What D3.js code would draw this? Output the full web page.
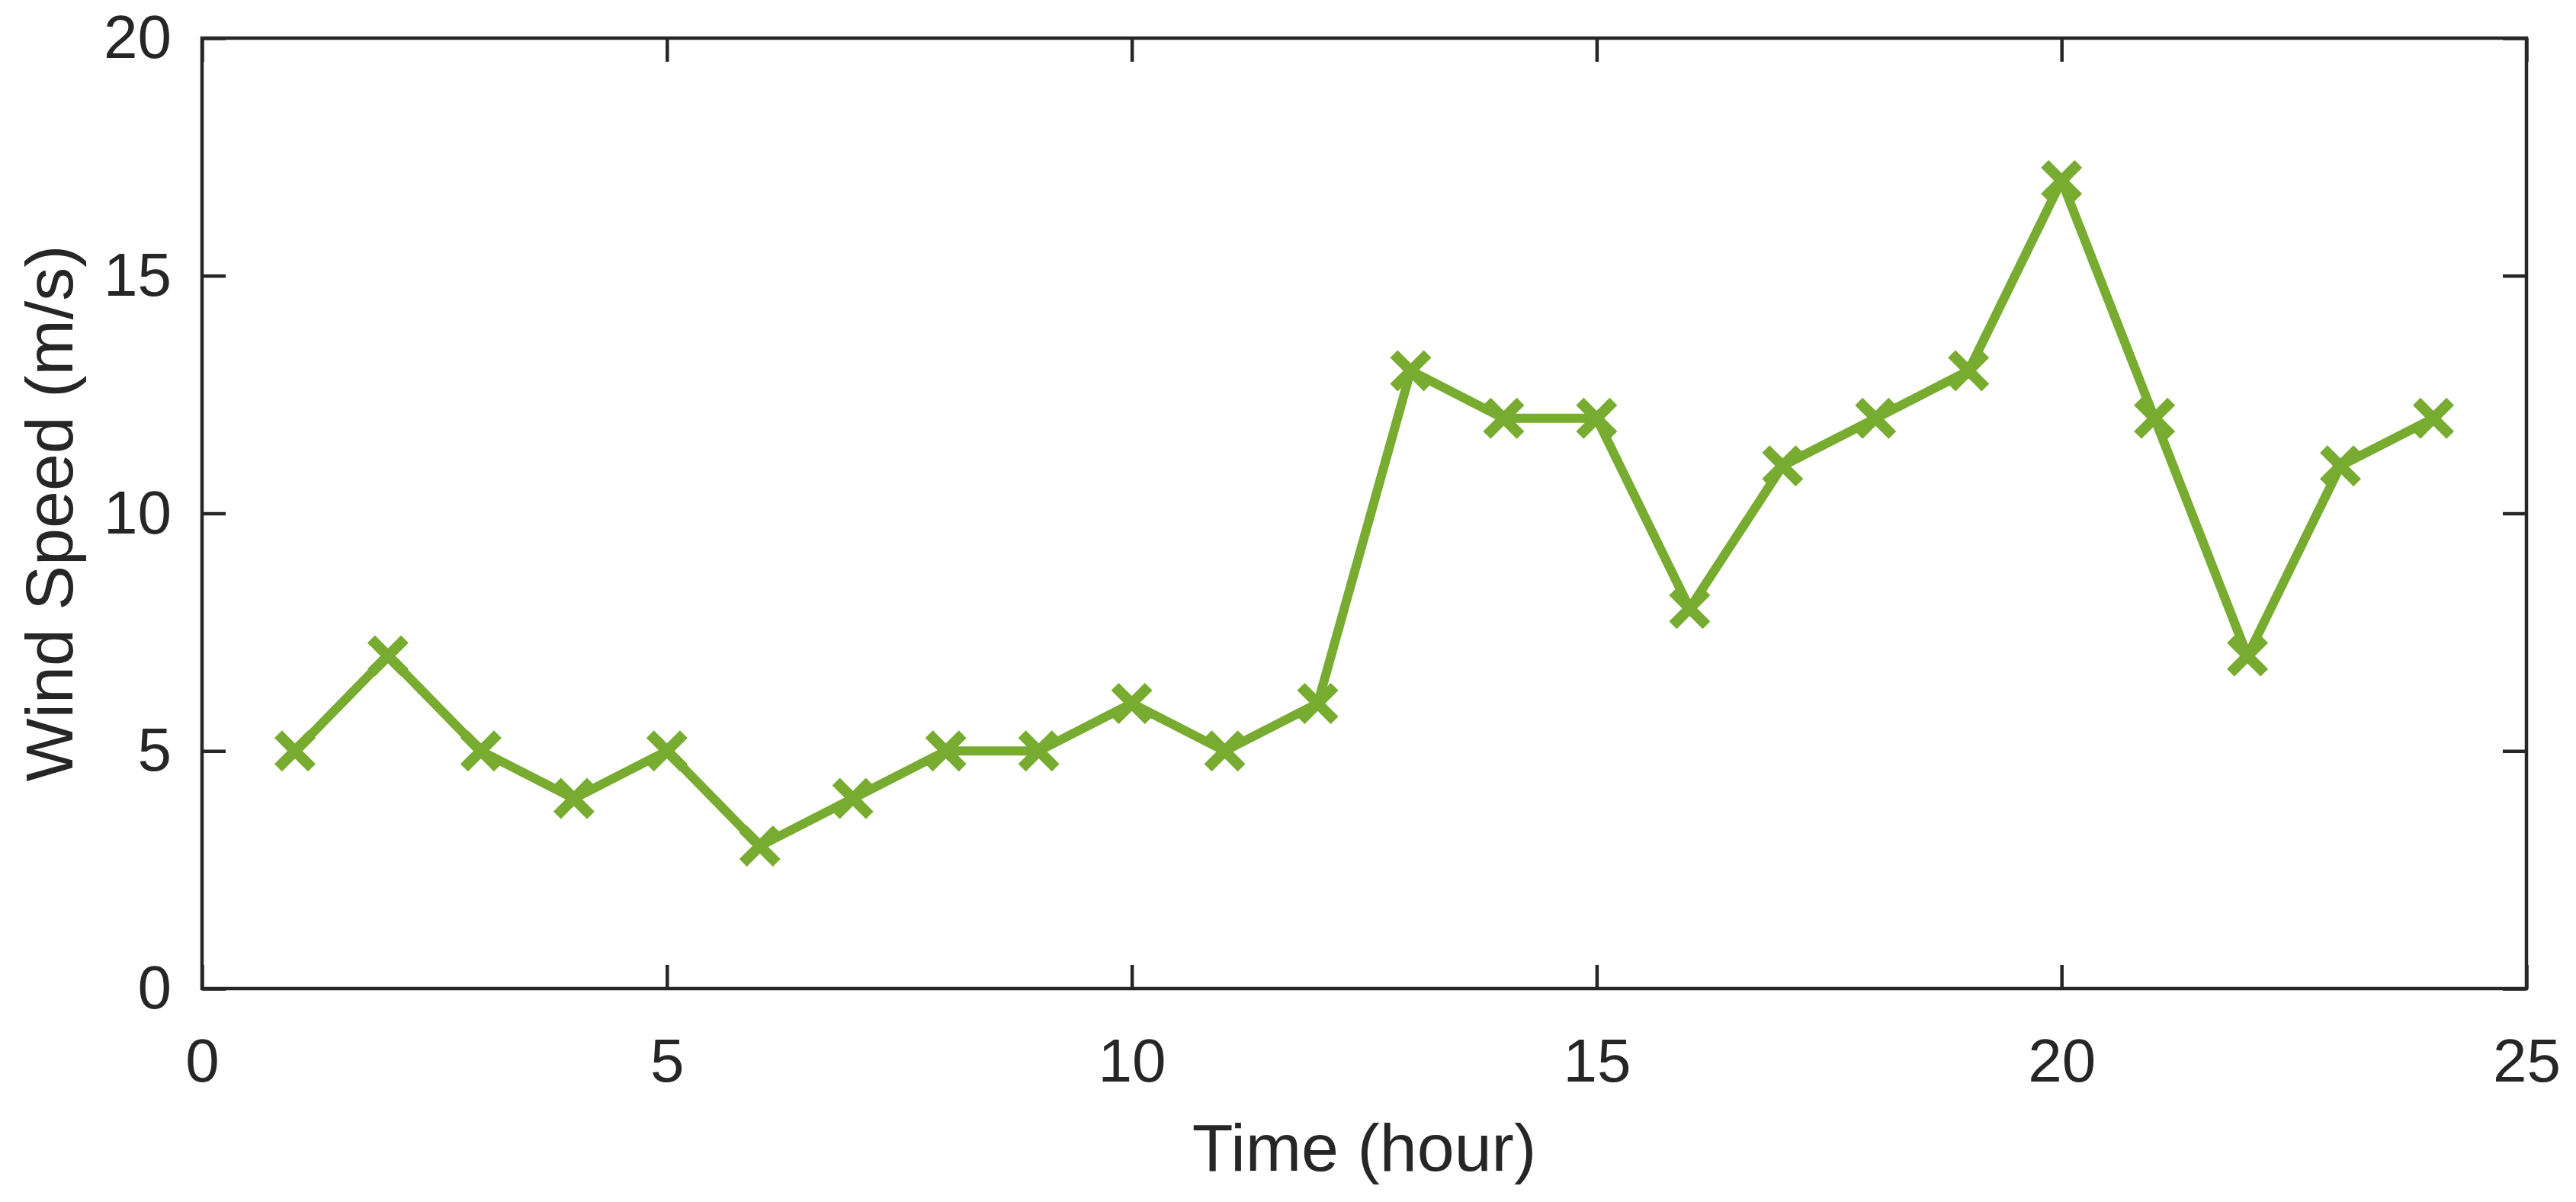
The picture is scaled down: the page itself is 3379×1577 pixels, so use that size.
<!DOCTYPE html>
<html>
<head>
<meta charset="utf-8">
<script src="https://cdn.jsdelivr.net/npm/d3@7"></script>
<style>
  body { margin: 0; background: #fff; }
  text { font-family: "Liberation Sans", Arial, sans-serif; fill: #262626; }
</style>
</head>
<body>
<svg class="chart"></svg>
<script>
// hours and wind speed
var hours = [1,2,3,4,5,6,7,8,9,10,11,12,13,14,15,16,17,18,19,20,21,22,23,24];
var speed = [5,7,5,4,5,3,4,5,5,6,5,6,13,12,12,8,11,12,13,17,12,7,11,12];
var xTicks = [0,5,10,15,20,25];
var yTicks = [0,5,10,15,20];

var W = 3379, H = 1577;
// note: "top" is taken by window.top, so prefixed names
var pLeft = 265, pRight = 3314, pTop = 50, pBottom = 1297;
var green = "#77AC30", dark = "#262626";

var svg = d3.select(".chart").attr("width", W).attr("height", H);

var x = d3.scaleLinear().domain([0,25]).range([pLeft,pRight]);
var y = d3.scaleLinear().domain([0,20]).range([pBottom,pTop]);

// axes, ticks pointing inward like matlab
function styleAxis(g){
	g.select(".domain").remove();
	g.selectAll(".tick line").attr("stroke", dark).attr("stroke-width", 4.5);
	g.selectAll(".tick text").style("font-size", "80px").attr("fill", dark);
}

svg.append("g")
	.attr("transform", "translate(0," + pBottom + ")")
	.call(d3.axisBottom(x).tickValues(xTicks).tickSizeInner(-31).tickSizeOuter(0).tickPadding(65))
	.call(styleAxis);

svg.append("g")
	.attr("transform", "translate(0," + pTop + ")")
	.call(d3.axisTop(x).tickValues(xTicks).tickSizeInner(-31).tickSizeOuter(0).tickFormat(""))
	.call(styleAxis);

svg.append("g")
	.attr("transform", "translate(" + pLeft + ",0)")
	.call(d3.axisLeft(y).tickValues(yTicks).tickSizeInner(-31).tickSizeOuter(0).tickPadding(40))
	.call(styleAxis);

svg.append("g")
	.attr("transform", "translate(" + pRight + ",0)")
	.call(d3.axisRight(y).tickValues(yTicks).tickSizeInner(-31).tickSizeOuter(0).tickFormat(""))
	.call(styleAxis);

// box
svg.append("rect")
	.attr("x", pLeft).attr("y", pTop)
	.attr("width", pRight-pLeft).attr("height", pBottom-pTop)
	.attr("fill", "none")
	.attr("stroke", dark)
	.attr("stroke-width", 4.5);

// series line
var line = d3.line()
	.x(function(d,i){ return x(hours[i]); })
	.y(function(d){ return y(d); });

svg.append("path")
	.datum(speed)
	.attr("d", line)
	.attr("fill", "none")
	.attr("stroke", green)
	.attr("stroke-width", 12)
	.attr("stroke-linejoin", "round");

// x markers
var mark = d3.symbol().type(d3.symbolX).size(1270);
svg.append("g")
	.selectAll("path")
	.data(speed)
	.enter().append("path")
	.attr("d", mark)
	.attr("transform", function(d,i){ return "translate(" + x(hours[i]) + "," + y(d) + ")"; })
	.attr("fill", "none")
	.attr("stroke", green)
	.attr("stroke-width", 14);

// axis titles
svg.append("text")
	.attr("x", (pLeft+pRight)/2)
	.attr("y", 1536)
	.attr("text-anchor", "middle")
	.style("font-size", "88px")
	.text("Time (hour)");

svg.append("text")
	.attr("transform", "translate(95," + (pTop+pBottom)/2 + ") rotate(-90)")
	.attr("text-anchor", "middle")
	.style("font-size", "88px")
	.text("Wind Speed (m/s)");
</script>
</body>
</html>
